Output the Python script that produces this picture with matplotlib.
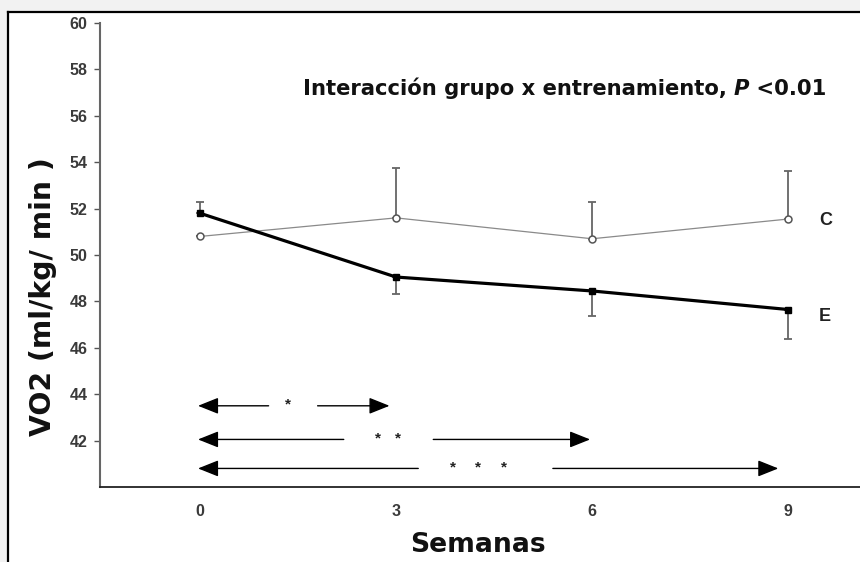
import matplotlib
matplotlib.use("Agg")
import matplotlib.pyplot as plt
from matplotlib.patches import Rectangle
from matplotlib.lines import Line2D

# ---- data ----
weeks = [0, 3, 6, 9]
c_mean = [50.8, 51.6, 50.7, 51.55]
c_err_up = [0.0, 2.15, 1.6, 2.05]
e_mean = [51.8, 49.05, 48.45, 47.65]
e_err_up = [0.5, 0.0, 0.0, 0.0]
e_err_dn = [0.0, 0.75, 1.1, 1.25]
yticks = [42, 44, 46, 48, 50, 52, 54, 56, 58, 60]
xticks = [0, 3, 6, 9]
n_stars = [1, 2, 3]
comp_end = [3, 6, 9]
title = "Interacción grupo x entrenamiento, "
ylabel = "VO2 (ml/kg/ min )"
xlabel = "Semanas"

W, H = 860, 562
fig = plt.figure(figsize=(W / 100, H / 100), dpi=100)
fig.patch.set_facecolor("#f2f2f2")
# white panel with frame on top and left
fig.patches.append(Rectangle((8 / W, 0), 1 - 8 / W, 1 - 12 / H, transform=fig.transFigure,
                             facecolor="white", edgecolor="none", zorder=-10))
fig.lines.append(Line2D([8 / W, 1], [1 - 12 / H, 1 - 12 / H], transform=fig.transFigure,
                        color="black", lw=1.6, zorder=-5))
fig.lines.append(Line2D([8 / W, 8 / W], [0, 1 - 12 / H], transform=fig.transFigure,
                        color="black", lw=1.6, zorder=-5))

ax = fig.add_axes([100 / W, 1 - 487 / H, 1 - 100 / W, (487 - 23) / H])
ax.set_facecolor("none")
ax.set_xlim(-1.53, 10.1)
ax.set_ylim(40, 60)
for s in ["top", "right"]:
    ax.spines[s].set_visible(False)
ax.spines["left"].set_color("#666666")
ax.spines["left"].set_linewidth(1.5)
ax.spines["bottom"].set_color("#222222")
ax.spines["bottom"].set_linewidth(1.3)
ax.set_yticks(yticks)
ax.set_xticks(xticks)
ax.tick_params(axis="y", direction="out", length=4, width=1, color="#555555", pad=5)
ax.tick_params(axis="x", length=0, pad=12)
for lab in ax.get_yticklabels() + ax.get_xticklabels():
    lab.set_fontfamily("Liberation Sans")
    lab.set_fontweight("bold")
    lab.set_fontsize(11.5)
    lab.set_color("#3a3a3a")

# C series
ax.errorbar(weeks, c_mean, yerr=[[0] * 4, c_err_up], fmt="none", ecolor="#666666",
            elinewidth=1.3, capsize=3, capthick=1.3, zorder=2)
ax.plot(weeks, c_mean, color="#8a8a8a", lw=0.9, marker="o", ms=5,
        mfc="white", mec="#555555", mew=1.1, zorder=3)
# E series
ax.errorbar(weeks, e_mean, yerr=[e_err_dn, e_err_up], fmt="none", ecolor="#666666",
            elinewidth=1.3, capsize=3, capthick=1.3, zorder=2)
ax.plot(weeks, e_mean, color="black", lw=2.3, marker="s", ms=4.5,
        mfc="black", mec="black", zorder=4)

ax.text(9.47, c_mean[3] - 0.05, "C", fontfamily="Liberation Sans", fontweight="bold",
        fontsize=13, color="#222222", ha="left", va="center")
ax.text(9.47, e_mean[3] - 0.3, "E", fontfamily="Liberation Sans", fontweight="bold",
        fontsize=13, color="#222222", ha="left", va="center")

# title with bold-italic P
tkw = dict(fontfamily="DejaVu Sans", fontweight="bold", fontsize=15.25, color="#111111")
t1 = ax.text(1.57, 57.2, title, ha="left", va="center", **tkw)
t2 = ax.annotate("P", xy=(1, 0), xycoords=t1, ha="left", va="bottom",
                 fontstyle="italic", **tkw)
t3 = ax.annotate(" <0.01", xy=(1, 0), xycoords=t2, ha="left", va="bottom", **tkw)

# significance arrows
rows_y = [43.5, 42.05, 40.8]
left_end = [1.05, 2.2, 3.34]
right_start = [1.8, 3.57, 5.4]
star_x = [1.35, 2.88, 4.26]
star_gap = [0.0, 0.31, 0.39]
tip_off = [-0.1, -0.03, -0.15]
aprops = dict(arrowstyle="-|>,head_length=0.9,head_width=0.36", mutation_scale=14,
              color="black", lw=1.0, shrinkA=0, shrinkB=0)
for i, n in enumerate(n_stars):
    y = rows_y[i]
    ax.annotate("", xy=(-0.03, y), xytext=(left_end[i], y), arrowprops=aprops)
    ax.annotate("", xy=(comp_end[i] + tip_off[i], y), xytext=(right_start[i], y),
                arrowprops=aprops)
    for k in range(n):
        sx = star_x[i] + (k - (n - 1) / 2) * star_gap[i]
        ax.text(sx, y + 0.05, "*", fontfamily="Liberation Sans", fontweight="bold",
                fontsize=11, ha="center", va="center", color="#222222")

fig.text(43 / W, 1 - 297 / H, ylabel, rotation=90, fontfamily="DejaVu Sans",
         fontweight="bold", fontsize=20.3, ha="center", va="center", color="#111111")
fig.text(478 / W, 1 - 545 / H, xlabel, fontfamily="DejaVu Sans",
         fontweight="bold", fontsize=19.2, ha="center", va="center", color="#111111")

fig.savefig("out.png", dpi=100, facecolor=fig.get_facecolor())
